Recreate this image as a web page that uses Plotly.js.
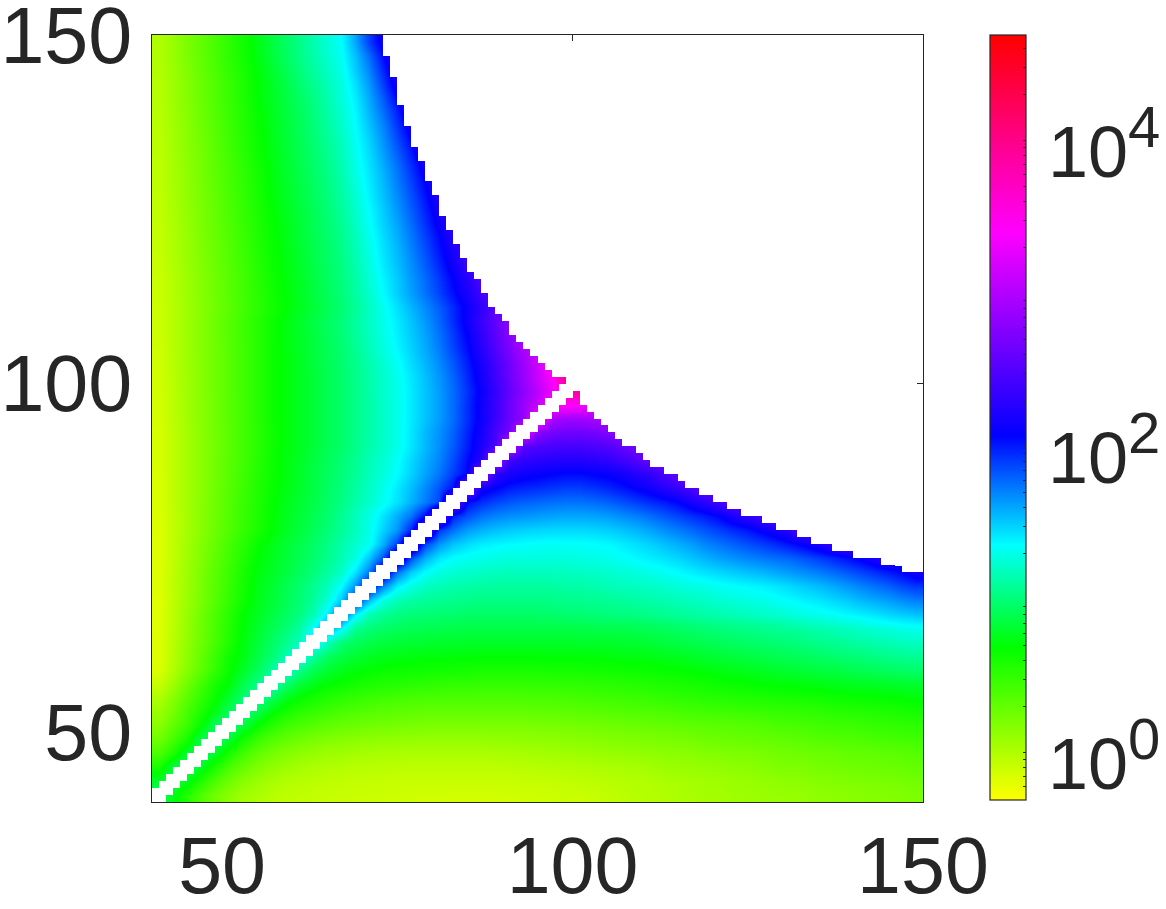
<!DOCTYPE html>
<html>
<head>
<meta charset="utf-8">
<script src="https://cdn.plot.ly/plotly-3.0.1.min.js"></script>
<style>html,body{margin:0;padding:0;background:#fff}</style>
</head>
<body>
<div id="chart" style="width:1166px;height:909px"></div>
<script>
// cell centres of the value grid
const xCenters = [41,43,45,47,49,51,53,55,57,59,61,63,65,67,69,71,73,75,77,79,81,83,85,87,89,91,93,95,97,99,101,103,105,107,109,111,113,115,117,119,121,123,125,127,129,131,133,135,137,139,141,143,145,147,149];
const yCenters = [41,43,45,47,49,51,53,55,57,59,61,63,65,67,69,71,73,75,77,79,81,83,85,87,89,91,93,95,97,99,101,103,105,107,109,111,113,115,117,119,121,123,125,127,129,131,133,135,137,139,141,143,145,147,149];

// log10 of the value x 100, bottom row first, rows stop where the data stops
const logRows = [
[90,75,55,38,25,15,7,2,-2,-5,-6,-7,-8,-9,-10,-10,-11,-11,-12,-12,-12,-13,-13,-13,-13,-12,-12,-11,-11,-10,-10,-8,-6,-4,-2,-1,0,2,3,5,5,7,8,9,10,10,11,13,14,15,16,17,18,19,20],
[80,88,76,56,39,26,16,9,4,0,-2,-4,-5,-6,-7,-7,-8,-9,-9,-9,-9,-9,-9,-9,-9,-9,-8,-8,-7,-6,-5,-4,-3,-2,-1,0,2,3,5,6,7,9,10,11,13,14,15,17,18,19,20,21,22,23,25],
[60,85,90,78,58,41,29,20,13,8,5,2,0,-1,-3,-3,-4,-4,-5,-5,-5,-5,-5,-5,-5,-4,-3,-2,-1,-1,0,1,2,3,4,6,8,9,10,11,12,14,15,17,19,20,21,23,24,25,26,27,28,29,30],
[40,58,82,92,80,60,44,32,24,18,14,11,8,7,5,4,3,3,2,2,2,2,2,2,3,3,4,5,6,7,8,9,10,11,12,13,14,15,16,18,19,20,21,22,24,25,26,27,28,30,31,32,33,34,36],
[25,42,60,88,95,82,62,48,38,31,26,22,19,17,15,14,13,12,11,11,11,11,11,11,12,12,13,13,14,15,16,17,18,19,20,21,22,23,24,26,27,28,29,30,31,33,34,36,37,38,39,41,42,43,44],
[15,31,47,67,93,100,85,68,55,46,40,36,32,29,27,25,24,23,22,21,21,21,21,21,21,21,21,22,22,23,24,25,26,27,28,29,30,31,32,33,34,35,36,37,40,41,42,44,45,46,47,49,50,51,52],
[8,23,41,58,74,93,105,90,73,62,54,49,45,41,38,36,34,33,32,31,31,31,31,31,31,31,31,32,32,33,34,35,36,37,38,39,40,42,43,44,45,46,47,48,49,50,51,52,54,55,56,57,58,60,61],
[0,16,33,50,66,80,98,110,95,78,69,62,57,53,50,47,45,43,42,41,41,40,40,40,40,40,40,41,41,42,43,44,45,46,47,49,50,52,53,55,56,57,58,59,60,61,62,63,65,66,67,68,69,70,72],
[-10,7,25,43,60,71,88,103,120,100,85,77,70,66,62,59,57,56,54,53,52,51,51,50,50,50,50,51,51,52,52,53,54,55,56,57,59,60,62,63,65,67,68,70,71,72,73,74,76,77,78,79,80,81,82],
[-17,0,17,33,50,66,79,92,108,130,105,90,82,76,72,69,66,65,64,63,62,62,61,60,60,60,60,60,61,61,62,62,63,64,65,66,67,68,70,72,74,75,77,78,80,82,83,85,86,88,90,92,94,95,97],
[-18,-2,14,30,47,64,74,86,98,112,140,110,95,87,81,78,76,74,73,72,72,71,71,70,70,70,70,70,71,71,71,71,72,73,73,74,76,77,79,81,83,85,86,88,90,91,93,95,97,99,100,103,105,107,108],
[-18,-3,12,27,42,57,73,83,94,105,118,150,120,100,93,88,85,83,82,81,80,80,79,79,79,79,79,79,79,79,80,80,80,81,82,83,85,87,88,90,92,94,96,97,99,100,103,105,107,109,112,114,116,118,120],
[-19,-4,11,26,41,56,70,80,89,98,110,135,165,140,108,100,96,93,91,90,89,88,87,87,87,87,87,87,87,87,88,88,89,89,90,91,93,95,97,99,101,103,105,106,108,110,112,115,117,120,122,125,127,130,132],
[-19,-4,10,25,40,54,69,77,85,93,102,115,140,180,142,116,108,103,100,99,98,97,96,95,95,95,95,96,97,98,99,100,101,102,103,105,107,109,111,113,115,117,119,121,123,126,129,131,134,137,140,143,147,150,153],
[-19,-5,9,22,36,50,63,75,82,90,98,109,124,150,195,155,128,117,112,109,107,106,104,103,103,103,103,103,104,105,106,107,108,110,111,113,115,117,119,121,124,126,128,130,133,136,139,142,146,150,155,159,163,168,172],
[-18,-5,8,22,35,48,62,74,81,89,97,106,118,135,165,210,170,140,128,120,116,114,113,111,110,110,110,110,111,112,113,114,116,118,119,121,123,126,128,130,133,135,137,139,142,146,150,154,159,164,170,175,180,187,192],
[-18,-5,8,21,34,47,60,72,78,85,92,100,110,121,142,172,225,175,150,135,128,124,122,120,119,118,118,118,118,119,120,121,123,125,127,130,133,136,140,144,147,150,153,156,160,164,168,172,177,182,188,194,200,207,218],
[-18,-6,7,19,32,44,57,69,76,83,90,97,105,116,127,152,185,240,185,158,142,135,132,130,128,127,127,127,127,127,128,129,131,134,137,140,143,147,152,157,162,166,170,173,176,179,184,190,196,203,210,220,235],
[-18,-6,6,18,30,42,54,66,74,81,88,95,103,113,123,132,158,190,250,188,165,152,145,140,138,136,135,134,133,134,134,135,137,140,144,148,153,158,163,170,175,180,185,190,196,203,210,220,233,250],
[-17,-6,5,16,27,38,49,59,69,77,84,91,99,108,118,130,148,165,198,260,192,175,163,157,153,150,148,147,146,146,146,147,149,152,156,161,167,172,178,184,190,196,202,210,218,230,250],
[-17,-6,5,16,27,37,48,58,68,76,83,90,97,107,118,129,143,158,175,205,270,198,185,175,170,167,165,163,161,160,160,161,163,167,171,176,182,188,194,200,208,220,230,245,260],
[-16,-5,5,16,26,37,47,57,67,75,81,87,95,103,113,122,132,143,157,172,188,275,205,195,188,183,180,178,176,175,175,177,180,185,190,195,200,207,218,230,242,260],
[-16,-5,5,15,26,36,46,57,66,73,79,86,94,101,111,120,130,141,154,168,184,203,285,215,208,200,197,195,192,190,190,193,197,202,208,215,225,235,247,262],
[-16,-5,5,15,25,35,45,55,64,72,79,86,93,100,108,118,126,136,148,161,174,191,207,295,230,218,213,210,207,205,205,208,210,216,224,232,245,260,275],
[-15,-5,5,15,25,35,44,54,64,72,78,85,92,99,107,116,124,134,146,158,170,186,204,226,310,240,232,228,226,225,225,228,232,240,250,262,275],
[-15,-5,5,15,24,34,44,53,63,71,77,83,90,96,104,113,121,130,142,155,167,182,199,220,245,325,255,248,245,244,244,247,250,260,268,278],
[-15,-5,5,15,25,34,44,53,63,71,77,83,90,96,104,113,121,130,142,155,166,180,197,217,243,269,340,280,268,266,265,268,275,285],
[-14,-4,6,16,25,35,44,54,64,71,77,83,90,96,104,112,121,130,141,152,163,177,194,213,237,262,283,360,295,290,290,295,300],
[-14,-4,6,16,25,35,44,54,64,71,77,83,90,96,104,112,121,130,141,152,163,177,194,213,237,262,286,312,340,345,340,330],
[-13,-3,7,16,26,35,45,54,64,71,77,83,90,96,104,113,122,130,141,152,163,177,193,211,234,258,281,306,334,370,400],
[-13,-3,7,16,26,35,45,54,64,71,77,83,90,96,104,113,122,131,142,153,165,179,196,215,239,263,286,313,341,400],
[-12,-2,7,17,26,35,45,54,64,71,77,84,90,97,105,114,124,133,145,156,168,183,199,219,242,265,289,316,345],
[-12,-2,7,17,26,35,45,54,64,71,78,84,91,97,107,117,127,137,148,159,172,188,204,226,249,272,295,320],
[-11,-2,8,17,26,36,45,54,64,72,78,85,92,99,109,119,129,139,150,161,175,191,208,231,254,277,300],
[-11,-2,8,17,27,36,45,55,64,72,79,86,93,100,110,120,130,141,152,164,178,195,213,236,258,280],
[-11,-2,7,16,25,34,43,52,61,69,76,83,90,98,108,119,132,144,156,168,181,196,212,231,255],
[-10,-1,8,17,26,35,44,53,62,70,77,85,92,100,111,123,136,149,162,175,189,204,220,240,260],
[-10,-1,8,17,26,35,44,54,63,71,78,85,93,101,112,125,138,150,164,177,192,208,225,250],
[-9,0,9,18,27,36,45,55,64,72,79,87,94,102,114,127,141,153,167,181,197,215,235],
[-8,1,10,19,28,37,46,56,65,73,80,88,95,104,116,129,143,155,170,185,202,220,240],
[-8,1,10,20,29,38,47,57,66,74,82,89,96,105,117,131,145,158,173,189,206,226],
[-7,2,11,21,30,39,48,58,67,75,82,90,98,107,120,134,148,161,177,194,212,232],
[-6,3,12,21,30,40,49,59,68,76,84,91,99,109,122,136,150,165,181,198,218],
[-6,3,13,22,31,41,50,60,70,78,85,93,101,111,124,139,153,168,185,203,225],
[-5,4,13,23,32,42,51,61,71,79,86,94,102,113,127,141,155,172,189,208,230],
[-5,4,14,23,33,42,52,62,72,80,88,96,104,115,129,143,158,175,194,215],
[-4,5,15,24,34,44,54,64,73,81,89,97,106,117,131,145,162,180,200,225],
[-4,6,15,25,35,45,55,65,74,82,90,98,108,118,133,148,166,186,207,230],
[-3,6,16,26,36,46,56,66,75,83,91,100,110,121,135,152,170,192,215],
[-3,7,17,27,37,47,57,67,76,84,92,101,112,123,137,156,176,198,225],
[-2,8,18,28,38,48,58,69,77,85,94,103,114,126,140,160,182,207,235],
[-2,8,18,28,38,48,58,69,78,87,97,106,117,127,144,164,190,217],
[-1,9,19,30,40,50,60,71,80,90,100,110,120,130,149,170,197,225],
[0,10,21,31,41,52,62,73,83,93,103,113,123,133,153,177,205,230],
[0,10,21,31,42,52,63,74,84,94,104,115,125,135,160,190,215]
];

// where the data ends, per 1-unit column from x=40: number of filled rows above y=40
const topEdge = [110,110,110,110,110,110,110,110,110,110,110,110,110,110,110,110,110,110,110,110,110,110,110,110,110,110,110,110,110,110,110,110,110,107,104,100,97,94,92,89,87,84,82,80,78,76,75,73,71,70,69,67,66,65,64,63,62,61,61,58,59,57,56,55,54,53,52,51,51,50,49,48,48,47,47,46,45,45,44,44,43,43,42,42,41,41,41,40,40,39,39,39,38,38,37,37,37,36,36,36,35,35,35,35,34,34,34,33,33,33];
const diagBand = [-1,0,1];

// colour scale
const zMin = -0.31, zMax = 4.69;
const colorStops = [0,0.2,0.333,0.476,0.742,1];
const colorNames = ['#ffff00','#00ff00','#00ffff','#0000ff','#ff00ff','#ff0000'];

// colorbar ticks
const barMajor = [1,100,10000];
const barExponents = ['0','2','4'];
const barMinor = [0.6,0.7,0.8,0.9,2,3,4,5,6,7,8,9,20,30,40,50,60,70,80,90,200,300,400,500,600,700,800,900,2000,3000,4000,5000,6000,7000,8000,9000,20000,30000,40000];

const ink = '#262626';
const z = logRows.map(row => xCenters.map((_, i) => i < row.length ? row[i] / 100 : null));

// white cells: the diagonal band, and a strip above the top edge of the data
const maskX = topEdge.map((_, k) => 40.5 + k);
const maskY = topEdge.map((_, k) => 40.5 + k);
const maskZ = maskY.map(() => maskX.map(() => null));
topEdge.forEach((top, k) => {
    for (let r = top; r < Math.min(top + 14, maskY.length); r++) maskZ[r][k] = 1;
    diagBand.forEach(d => {
        if (k + d >= 0 && k + d < maskY.length) maskZ[k + d][k] = 1;
    });
});

const mainTrace = {
    type: 'heatmap',
    x: xCenters,
    y: yCenters,
    z: z,
    zmin: zMin,
    zmax: zMax,
    zsmooth: 'best',
    hoverongaps: false,
    colorscale: colorStops.map((s, i) => [s, colorNames[i]]),
    colorbar: {
        xref: 'container',
        x: 990 / 1166,
        xanchor: 'left',
        xpad: 0,
        ypad: 0,
        y: 1,
        yanchor: 'top',
        len: 765 / 767,
        lenmode: 'fraction',
        thickness: 36,
        outlinecolor: ink,
        outlinewidth: 1.2,
        ticks: 'inside',
        ticklen: 3.5,
        tickwidth: 1,
        tickcolor: ink,
        tickmode: 'array',
        tickvals: barMajor.concat(barMinor).map(v => Math.log10(v)),
        showticklabels: false
    }
};

const maskTrace = {
    type: 'heatmap',
    x: maskX,
    y: maskY,
    z: maskZ,
    zmin: 0,
    zmax: 1,
    colorscale: [[0, '#ffffff'], [1, '#ffffff']],
    showscale: false,
    hoverinfo: 'skip'
};

function makeAxis(standoff) {
    return {
        range: [40, 150],
        tickmode: 'array',
        tickvals: [50, 100, 150],
        ticks: 'inside',
        ticklen: 6,
        tickwidth: 1,
        tickcolor: ink,
        showline: true,
        mirror: 'ticks',
        linecolor: ink,
        linewidth: 1,
        showgrid: false,
        zeroline: false,
        layer: 'below traces',
        ticklabeloverflow: 'allow',
        ticklabelstandoff: standoff,
        tickfont: {family: 'Liberation Sans, Arial', size: 79, color: ink}
    };
}

// position of a colorbar value in paper units of the plot area
function barY(v) {
    return (Math.log10(v) - zMin) / (zMax - zMin) * (765 / 767) + 2 / 767;
}

// longer ticks at the decades of the colorbar
const barShapes = barMajor.map(v => ({
    type: 'line', xref: 'paper', yref: 'paper', x0: 1.1245, x1: 1.1336, y0: barY(v), y1: barY(v),
    line: {color: ink, width: 1}
}));

const barLabels = barMajor.map((v, i) => ({
    xref: 'paper',
    yref: 'paper',
    x: 1.1598,
    y: barY(v),
    xanchor: 'left',
    yanchor: 'middle',
    yshift: -2,
    showarrow: false,
    text: '10<sup><span style="font-size:58px">' + barExponents[i] + '</span></sup>',
    font: {family: 'Liberation Sans, Arial', size: 72, color: ink}
}));

const layout = {
    width: 1166,
    height: 909,
    margin: {l: 152, r: 243, t: 35, b: 107},
    paper_bgcolor: '#ffffff',
    plot_bgcolor: '#ffffff',
    font: {family: 'Liberation Sans, Arial', color: ink},
    xaxis: makeAxis(-5),
    yaxis: makeAxis(3),
    shapes: barShapes,
    annotations: barLabels
};

Plotly.newPlot('chart', [mainTrace, maskTrace], layout, {displayModeBar: false});
</script>
</body>
</html>
